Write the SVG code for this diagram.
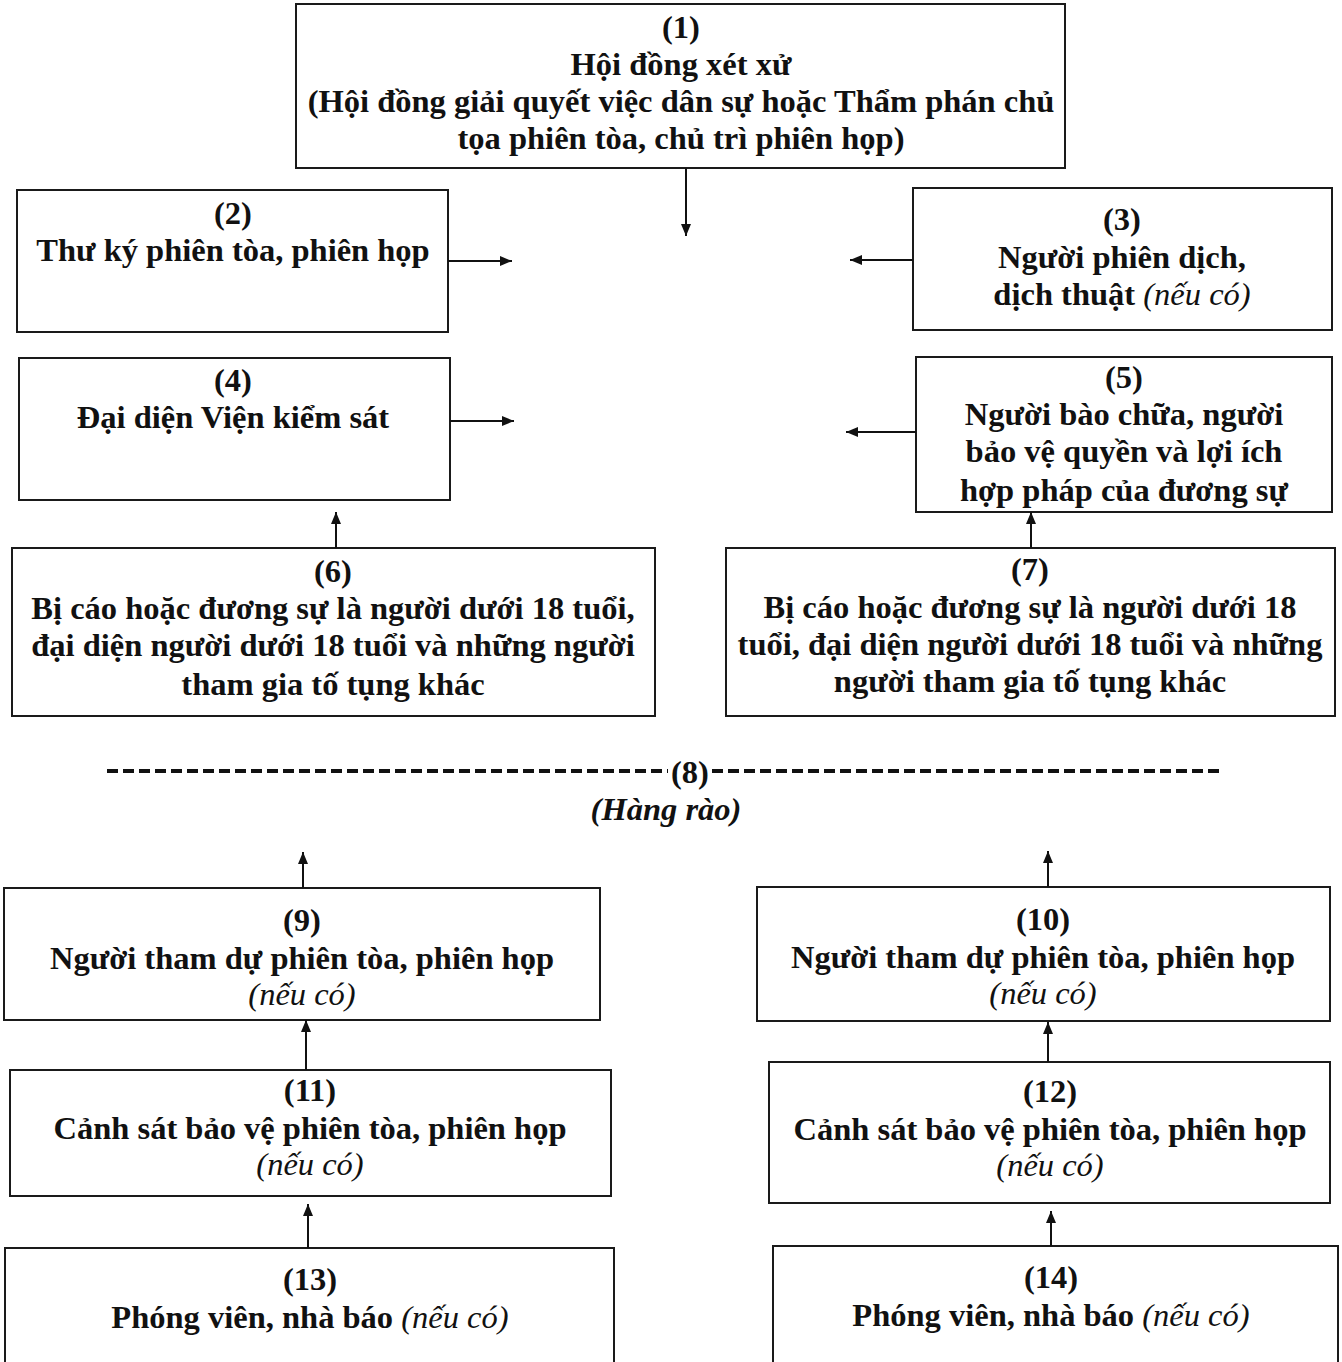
<svg xmlns="http://www.w3.org/2000/svg" width="1342" height="1362" viewBox="0 0 1342 1362">
<style>
.box{fill:none;stroke:#1a1a1a;stroke-width:2}
.t{font-family:"Liberation Serif","Times New Roman",serif;font-size:32.5px;font-weight:bold;fill:#111;text-anchor:middle}
.i{font-style:italic;font-weight:normal}
.c{stroke:#111;stroke-width:2;fill:none;marker-end:url(#ah)}
.dash{stroke:#111;stroke-width:4;stroke-dasharray:11 5;fill:none}
</style>
<defs>
<marker id="ah" viewBox="0 0 12 10" refX="12" refY="5" markerWidth="12" markerHeight="10" markerUnits="userSpaceOnUse" orient="auto">
<path d="M0,0 L12,5 L0,10 Z" fill="#111"/>
</marker>
</defs>
<rect width="1342" height="1362" fill="#fff"/>

<g id="n1"><rect class="box" x="296" y="4" width="769" height="164"/>
<text class="t" x="681" y="38">(1)</text>
<text class="t" x="681" y="75">Hội đồng xét xử</text>
<text class="t" x="681" y="112">(Hội đồng giải quyết việc dân sự hoặc Thẩm phán chủ</text>
<text class="t" x="681" y="149">tọa phiên tòa, chủ trì phiên họp)</text></g>

<g id="n2"><rect class="box" x="17" y="190" width="431" height="142"/>
<text class="t" x="233" y="224">(2)</text>
<text class="t" x="233" y="261">Thư ký phiên tòa, phiên họp</text></g>

<g id="n3"><rect class="box" x="913" y="188" width="419" height="142"/>
<text class="t" x="1122" y="230">(3)</text>
<text class="t" x="1122" y="268">Người phiên dịch,</text>
<text class="t" x="1122" y="305">dịch thuật <tspan class="i">(nếu có)</tspan></text></g>

<g id="n4"><rect class="box" x="19" y="358" width="431" height="142"/>
<text class="t" x="233" y="391">(4)</text>
<text class="t" x="233" y="428">Đại diện Viện kiểm sát</text></g>

<g id="n5"><rect class="box" x="916" y="357" width="416" height="155"/>
<text class="t" x="1124" y="388">(5)</text>
<text class="t" x="1124" y="425">Người bào chữa, người</text>
<text class="t" x="1124" y="462">bảo vệ quyền và lợi ích</text>
<text class="t" x="1124" y="501">hợp pháp của đương sự</text></g>

<g id="n6"><rect class="box" x="12" y="548" width="643" height="168"/>
<text class="t" x="333" y="582">(6)</text>
<text class="t" x="333" y="619">Bị cáo hoặc đương sự là người dưới 18 tuổi,</text>
<text class="t" x="333" y="656">đại diện người dưới 18 tuổi và những người</text>
<text class="t" x="333" y="695">tham gia tố tụng khác</text></g>

<g id="n7"><rect class="box" x="726" y="548" width="609" height="168"/>
<text class="t" x="1030" y="580">(7)</text>
<text class="t" x="1030" y="618">Bị cáo hoặc đương sự là người dưới 18</text>
<text class="t" x="1030" y="655">tuổi, đại diện người dưới 18 tuổi và những</text>
<text class="t" x="1030" y="692">người tham gia tố tụng khác</text></g>

<g id="n8">
<line class="dash" x1="107" y1="771" x2="668" y2="771"/>
<text class="t" x="690" y="783">(8)</text>
<line class="dash" x1="712" y1="771" x2="1224" y2="771"/>
<text class="t i" x="666" y="820" style="font-weight:bold">(Hàng rào)</text></g>

<g id="n9"><rect class="box" x="4" y="888" width="596" height="132"/>
<text class="t" x="302" y="931">(9)</text>
<text class="t" x="302" y="969">Người tham dự phiên tòa, phiên họp</text>
<text class="t i" x="302" y="1005">(nếu có)</text></g>

<g id="n10"><rect class="box" x="757" y="887" width="573" height="134"/>
<text class="t" x="1043" y="930">(10)</text>
<text class="t" x="1043" y="968">Người tham dự phiên tòa, phiên họp</text>
<text class="t i" x="1043" y="1004">(nếu có)</text></g>

<g id="n11"><rect class="box" x="10" y="1070" width="601" height="126"/>
<text class="t" x="310" y="1101">(11)</text>
<text class="t" x="310" y="1139">Cảnh sát bảo vệ phiên tòa, phiên họp</text>
<text class="t i" x="310" y="1175">(nếu có)</text></g>

<g id="n12"><rect class="box" x="769" y="1062" width="561" height="141"/>
<text class="t" x="1050" y="1102">(12)</text>
<text class="t" x="1050" y="1140">Cảnh sát bảo vệ phiên tòa, phiên họp</text>
<text class="t i" x="1050" y="1176">(nếu có)</text></g>

<g id="n13"><rect class="box" x="5" y="1248" width="609" height="120"/>
<text class="t" x="310" y="1290">(13)</text>
<text class="t" x="310" y="1328">Phóng viên, nhà báo <tspan class="i">(nếu có)</tspan></text></g>

<g id="n14"><rect class="box" x="773" y="1246" width="565" height="122"/>
<text class="t" x="1051" y="1288">(14)</text>
<text class="t" x="1051" y="1326">Phóng viên, nhà báo <tspan class="i">(nếu có)</tspan></text></g>

<g id="connectors">
<line class="c" x1="686" y1="168" x2="686" y2="236"/>
<line class="c" x1="448" y1="261" x2="512" y2="261"/>
<line class="c" x1="913" y1="260" x2="850" y2="260"/>
<line class="c" x1="450" y1="421" x2="514" y2="421"/>
<line class="c" x1="916" y1="432" x2="846" y2="432"/>
<line class="c" x1="336" y1="548" x2="336" y2="512"/>
<line class="c" x1="1031" y1="548" x2="1031" y2="512"/>
<line class="c" x1="303" y1="888" x2="303" y2="852"/>
<line class="c" x1="1048" y1="887" x2="1048" y2="851"/>
<line class="c" x1="306" y1="1070" x2="306" y2="1020"/>
<line class="c" x1="1048" y1="1062" x2="1048" y2="1022"/>
<line class="c" x1="308" y1="1248" x2="308" y2="1204"/>
<line class="c" x1="1051" y1="1246" x2="1051" y2="1211"/>
</g>
</svg>
